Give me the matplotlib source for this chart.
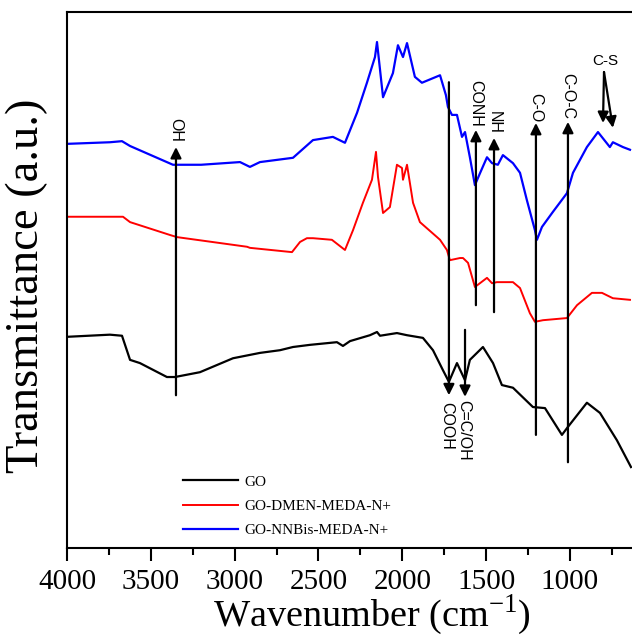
import matplotlib
matplotlib.use("Agg")
import matplotlib.pyplot as plt
from matplotlib.ticker import MultipleLocator

# wavenumber (cm-1) and transmittance (a.u., offset)
go_wn = [4000, 3744, 3672, 3624, 3565, 3404, 3356, 3207, 3010, 2849, 2730, 2652, 2551,
         2390, 2354, 2312, 2193, 2151, 2133, 2032, 1972, 1877, 1817, 1758, 1722, 1674,
         1626, 1597, 1519, 1459, 1406, 1340, 1221, 1149, 1048, 1012, 899, 821, 720, 636]
go_t = [39.4, 39.8, 39.6, 35.1, 34.5, 31.9, 31.9, 32.8, 35.4, 36.4, 36.9, 37.5, 37.9,
        38.4, 37.7, 38.6, 39.7, 40.3, 39.6, 40.1, 39.7, 39.2, 36.9, 33.2, 31.0, 34.5,
        31.3, 35.1, 37.5, 34.5, 30.4, 29.9, 26.3, 26.1, 21.1, 22.6, 27.1, 25.2, 20.1, 15.1]

dmen_wn = [4000, 3666, 3624, 3386, 3344, 2926, 2909, 2658, 2610, 2569, 2533, 2420, 2342,
           2294, 2235, 2181, 2157, 2145, 2115, 2074, 2032, 2002, 1996, 1972, 1936, 1895,
           1793, 1775, 1734, 1716, 1656, 1638, 1608, 1567, 1537, 1495, 1465, 1436, 1340,
           1298, 1239, 1209, 1161, 1018, 958, 869, 809, 744, 642]
dmen_t = [61.8, 61.8, 60.8, 58.4, 58.0, 56.2, 56.0, 55.2, 57.1, 57.8, 57.8, 57.5, 55.6,
          59.3, 64.4, 68.7, 73.9, 69.2, 62.5, 63.6, 71.5, 70.9, 68.7, 71.5, 64.4, 60.8,
          58.0, 57.5, 55.6, 53.7, 54.1, 54.1, 53.2, 48.7, 49.4, 50.4, 49.4, 49.6, 49.6,
          48.5, 43.8, 42.2, 42.5, 42.9, 45.3, 47.6, 47.6, 46.6, 46.3]

nnbis_wn = [4000, 3744, 3672, 3624, 3368, 3200, 2968, 2909, 2849, 2652, 2533, 2414, 2342,
            2270, 2211, 2163, 2151, 2115, 2056, 2026, 1996, 1972, 1925, 1883, 1775, 1740,
            1728, 1704, 1674, 1644, 1626, 1597, 1567, 1537, 1495, 1465, 1430, 1400, 1340,
            1298, 1257, 1209, 1197, 1167, 1102, 1018, 982, 899, 833, 762, 744, 684, 642]
nnbis_t = [75.4, 75.7, 75.9, 75.0, 71.5, 71.5, 72.0, 71.1, 72.0, 72.8, 76.1, 76.7, 75.6,
           81.2, 86.8, 91.6, 94.4, 84.1, 88.6, 93.8, 91.6, 94.2, 87.9, 86.8, 88.2, 84.5,
           82.3, 80.8, 80.8, 76.7, 77.6, 72.9, 67.7, 69.9, 72.9, 71.8, 71.5, 73.3, 71.8,
           70.0, 64.9, 59.3, 57.5, 59.9, 62.7, 66.2, 70.0, 74.8, 77.6, 74.8, 75.7, 74.8, 74.3]

# band assignments: label, wavenumber, arrow tail T, arrow tip T, text anchor T
bands_up = [("OH", 3350, 28.5, 74.8, 75.8),
            ("CONH", 1561, 45.3, 78.0, 78.6),
            ("NH", 1453, 44.0, 76.5, 77.3),
            ("C-O", 1203, 21.1, 79.3, 79.4),
            ("C-O-C", 1012, 16.0, 79.5, 80.0)]
bands_down = [("COOH", 1722, 86.9, 28.5, 27.3),
              ("C=C/OH", 1626, 40.7, 28.2, 27.6)]

serif = "Liberation Serif"
sans = "Liberation Sans"

fig = plt.figure(figsize=(6.32, 6.42), dpi=100)
ax = fig.add_axes([67 / 632, 94 / 642, 1 - 67 / 632, 536 / 642])

ax.plot(go_wn, go_t, color="black", lw=1.6, label="GO")
ax.plot(dmen_wn, dmen_t, color="red", lw=1.4, label="GO-DMEN-MEDA-N+")
ax.plot(nnbis_wn, nnbis_t, color="blue", lw=1.6, label="GO-NNBis-MEDA-N+")

arrow = dict(arrowstyle="-|>", color="black", lw=1.6, mutation_scale=16,
             shrinkA=0, shrinkB=0)
for lab, wn, t0, t1, tt in bands_up:
    ax.annotate("", xy=(wn, t1), xytext=(wn, t0), arrowprops=arrow)
    ax.text(wn, tt, lab, rotation=270, ha="center", va="bottom",
            family=sans, fontsize=11.5)
for lab, wn, t0, t1, tt in bands_down:
    ax.annotate("", xy=(wn, t1), xytext=(wn, t0), arrowprops=arrow)
    ax.text(wn + 10, tt, lab, rotation=270, ha="center", va="top",
            family=sans, fontsize=11.5)

# C-S: two arrows from a common origin
ax.annotate("", xy=(803, 79.3), xytext=(797, 88.8), arrowprops=arrow)
ax.annotate("", xy=(744, 78.4), xytext=(797, 88.8), arrowprops=arrow)
ax.text(791, 89.5, "C-S", ha="center", va="bottom", family=sans, fontsize=11)

ax.set_xlim(4000, 630)
ax.set_ylim(0, 100)
ax.set_yticks([])
ax.xaxis.set_major_locator(MultipleLocator(500))
ax.xaxis.set_minor_locator(MultipleLocator(250))
ax.tick_params(axis="x", which="major", direction="out", length=9, width=1.5,
               labelsize=21, pad=6)
ax.tick_params(axis="x", which="minor", direction="out", length=5, width=1.5)
for lbl in ax.get_xticklabels():
    lbl.set_family(serif)
for s in ax.spines.values():
    s.set_linewidth(1.5)
ax.spines["right"].set_visible(False)

ax.set_xlabel("Wavenumber (cm$^{\\mathregular{-1}}$)", family=serif, fontsize=27.5)
ax.xaxis.set_label_coords(0.54, -0.083, transform=ax.transAxes)
ax.xaxis.label.set_va("top")
ax.set_ylabel("Transmittance (a.u.)", family=serif, fontsize=33.5)
ax.yaxis.set_label_coords(-0.034, 0.49, transform=ax.transAxes)

ax.legend(loc="upper left", bbox_to_anchor=(0.205, 0.136), frameon=False,
          prop={"family": serif, "size": 11}, handlelength=3.6, handletextpad=0.4,
          labelspacing=0.68, borderpad=0, borderaxespad=0)

fig.savefig("out.png", dpi=100)
